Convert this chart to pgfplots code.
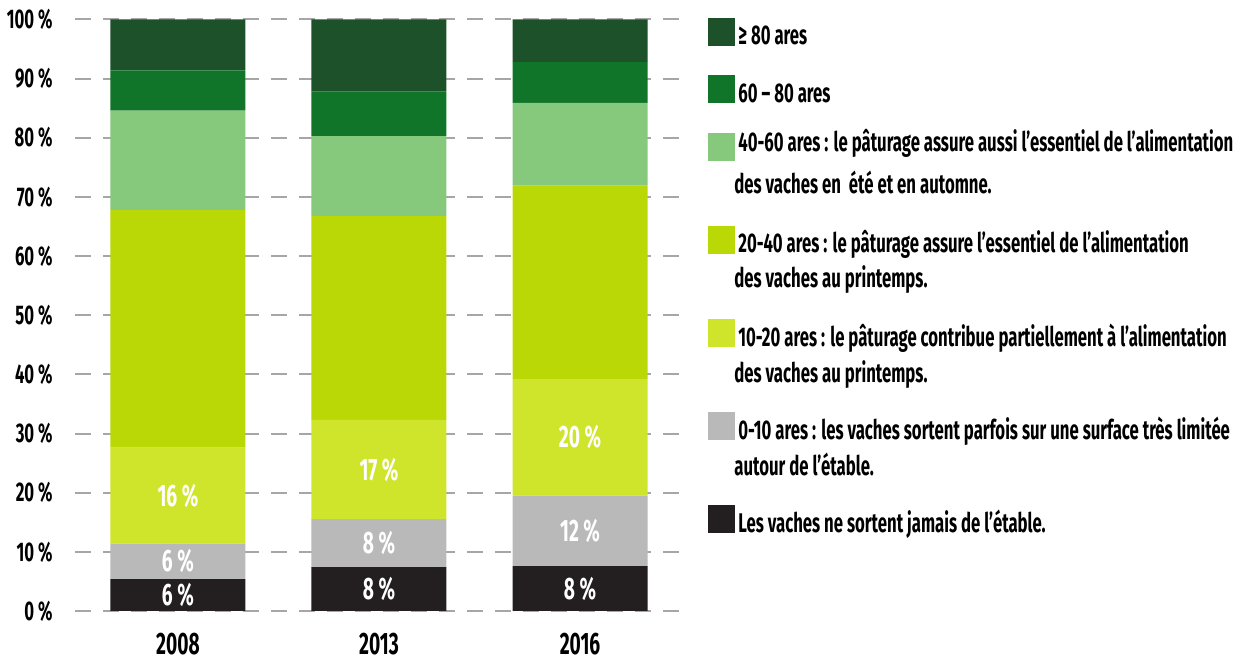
\documentclass[border=0pt]{standalone}
\usepackage{fontspec}
\setmainfont{Fira Sans}[FakeStretch=0.62]
\usepackage{pgfplots}
\pgfplotsset{compat=1.18}
\definecolor{cdg}{HTML}{1C5129}
\definecolor{cg}{HTML}{107528}
\definecolor{clg}{HTML}{86C97D}
\definecolor{cyg}{HTML}{BAD805}
\definecolor{cly}{HTML}{CFE52B}
\definecolor{cgr}{HTML}{B9B9B9}
\definecolor{cbk}{HTML}{231F20}
\definecolor{cgrid}{HTML}{A6A6A6}
\newcommand{\lf}{\bfseries\fontsize{13.5}{15}\selectfont}
\pgfplotsset{
  common/.style={at={(0,0)}, anchor=south west,
    scale only axis, width=306pt, height=295.75pt,
    xmin=-0.512, xmax=2.532, ymin=0, ymax=100}
}
\begin{document}
\begin{tikzpicture}
\useasboundingbox (-37.5pt,-26pt) rectangle (580pt,305.5pt);
\begin{axis}[
  common,
  ybar stacked, bar width=67.5pt,
  axis line style={draw=none},
  tick style={draw=none},
  ymajorgrids,
  major grid style={cgrid, line width=1pt, dash pattern=on 8pt off 6pt},
  ytick={0,10,20,30,40,50,60,70,80,90,100},
  yticklabels={0 \%,10 \%,20 \%,30 \%,40 \%,50 \%,60 \%,70 \%,80 \%,90 \%,100 \%},
  yticklabel style={anchor=east, inner sep=0pt, xshift=-11pt,
    font=\bfseries\fontsize{13.5}{15}\selectfont},
  xtick={0,1,2},
  xticklabels={2008,2013,2016},
  xticklabel style={anchor=north, inner sep=0pt, yshift=-11pt,
    font=\bfseries\fontsize{15.5}{17}\selectfont},
]
\addplot[fill=cbk, draw=none] coordinates {(0,5.4) (1,7.4) (2,7.6)};
\addplot[fill=cgr, draw=none] coordinates {(0,6.0) (1,8.15) (2,11.9)};
\addplot[fill=cly, draw=none] coordinates {(0,16.2) (1,16.75) (2,19.7)};
\addplot[fill=cyg, draw=none] coordinates {(0,40.2) (1,34.5) (2,32.7)};
\addplot[fill=clg, draw=none] coordinates {(0,16.8) (1,13.5) (2,14.0)};
\addplot[fill=cg, draw=none] coordinates {(0,6.8) (1,7.5) (2,6.9)};
\addplot[fill=cdg, draw=none] coordinates {(0,8.6) (1,12.2) (2,7.2)};
\end{axis}
% segment labels (at segment midpoints)
\begin{axis}[common, hide axis]
\addplot[only marks, mark=none, nodes near coords, point meta=explicit symbolic,
  every node near coord/.append style={anchor=center, text=white, inner sep=0pt,
    font=\bfseries\fontsize{15.5}{18}\selectfont}]
  coordinates {
  (0,2.7)[6 \%] (1,3.7)[8 \%] (2,3.8)[8 \%]
  (0,8.4)[6 \%] (1,11.475)[8 \%] (2,13.55)[12 \%]
  (0,19.5)[16 \%] (1,23.925)[17 \%] (2,29.35)[20 \%]
  };
\end{axis}
% legend
\fill[cdg] (316.5pt,282.65pt) rectangle ++(13.5pt,14pt);
\fill[cg]  (316.5pt,253.75pt) rectangle ++(13.5pt,14pt);
\fill[clg] (316.5pt,225.15pt) rectangle ++(13.5pt,14pt);
\fill[cyg] (316.5pt,178.35pt) rectangle ++(13.5pt,14pt);
\fill[cly] (316.5pt,131.85pt) rectangle ++(13.5pt,14pt);
\fill[cgr] (316.5pt,85.35pt) rectangle ++(13.5pt,14pt);
\fill[cbk] (316.5pt,38.85pt) rectangle ++(13.5pt,14pt);
\begin{scope}[every node/.style={anchor=base west, inner sep=0pt, font=\lf}]
\node at (331.5pt,283pt) {≥ 80 ares};
\node at (331.5pt,254pt) {60 – 80 ares};
\node at (331.5pt,229.75pt) {40-60 ares : le pâturage assure aussi l’essentiel de l’alimentation};
\node at (329.5pt,208.85pt) {des vaches en \ été et en automne.};
\node at (331.5pt,179pt) {20-40 ares : le pâturage assure l’essentiel de l’alimentation};
\node at (329.5pt,161.5pt) {des vaches au printemps.};
\node at (331.5pt,132.15pt) {10-20 ares : le pâturage contribue partiellement à l’alimentation};
\node at (329.5pt,114.15pt) {des vaches au printemps.};
\node at (331.5pt,85.5pt) {0-10 ares : les vaches sortent parfois sur une surface très limitée};
\node at (329.5pt,67.5pt) {autour de l’étable.};
\node at (331.5pt,39pt) {Les vaches ne sortent jamais de l’étable.};
\end{scope}
\end{tikzpicture}
\end{document}
